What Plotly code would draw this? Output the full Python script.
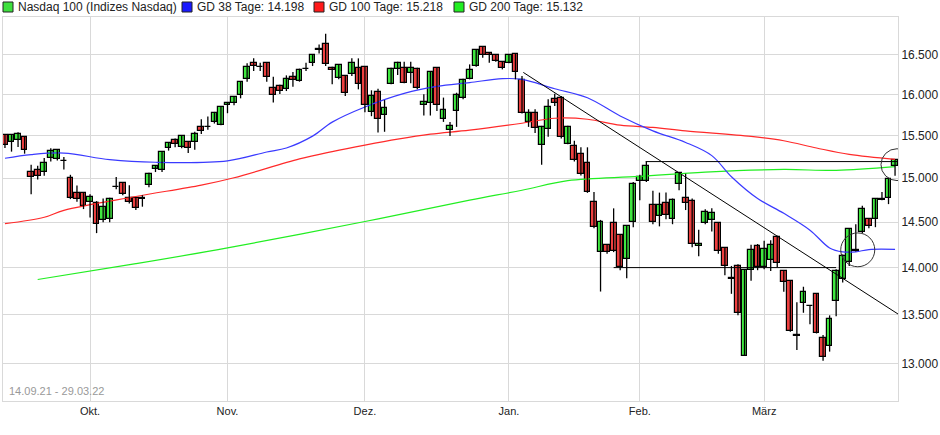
import numpy as np
import pandas as pd
import plotly.graph_objects as go

# trading days 14.09.21 - 29.03.22 (US exchange holidays left out)
holidays = ["2021-11-25", "2021-12-24", "2022-01-17", "2022-02-21"]
days = [d for d in pd.bdate_range("2021-09-14", "2022-03-29").strftime("%Y-%m-%d") if d not in holidays]

open_ = [15509, 15418, 15447, 15482, 15070, 15089, 15073, 15232, 15224, 15198,
         15001, 14833, 14830, 14729, 14718, 14524, 14529, 14899, 14944, 14766,
         14774, 14755, 14921, 15100, 15097, 15349, 15447, 15360, 15418, 15418,
         15608, 15603, 15668, 15627, 15870, 15890, 15996, 16195, 16396, 16345,
         16387, 16083, 16108, 16070, 16220, 16170, 16310, 16396, 16555, 16636,
         16332, 16199, 16227, 16257, 16327, 16345, 15789, 16033, 15745, 16132,
         16312, 16332, 16270, 16320, 15870, 15898, 16332, 15704, 15566, 15793,
         15960, 16195, 16356, 16597, 16513, 16487, 16408, 16396, 16509, 16178,
         15668, 15766, 15387, 15577, 15947, 15960, 15399, 15371, 15282, 15174,
         14729, 14165, 14243, 14494, 14352, 14096, 14505, 14963, 14963, 14688,
         14563, 14718, 14532, 14936, 14774, 14740, 14240, 14487, 14520, 14487,
         14214, 13893, 14018, 13079, 13972, 14233, 14007, 14085, 14337, 13964,
         13859, 13290, 13622, 13592, 13713, 13256, 13182, 13642, 13882, 14064,
         14180, 14395, 14532, 14532, 14750, 14766, 15139]
high = [15517, 15517, 15540, 15490, 15154, 15143, 15235, 15349, 15340, 15247,
        15038, 14914, 14834, 14814, 14736, 14766, 14774, 15012, 14955, 14917,
        14781, 14803, 15062, 15146, 15309, 15418, 15466, 15497, 15426, 15544,
        15696, 15728, 15785, 15858, 15906, 15980, 16165, 16387, 16450, 16396,
        16396, 16220, 16120, 16236, 16278, 16320, 16396, 16500, 16626, 16766,
        16345, 16378, 16236, 16450, 16450, 16353, 16050, 16070, 15930, 16332,
        16408, 16408, 16408, 16332, 16000, 16291, 16340, 15960, 15664, 16020,
        16195, 16374, 16563, 16606, 16522, 16500, 16416, 16500, 16513, 16227,
        15817, 15817, 15616, 15939, 16008, 15980, 15616, 15438, 15360, 15360,
        14841, 14524, 14250, 14654, 14358, 14463, 14955, 15038, 15193, 14855,
        14833, 14833, 14766, 15070, 15050, 14766, 14414, 14643, 14654, 14498,
        14225, 14018, 14035, 13982, 14250, 14257, 14293, 14297, 14347, 13972,
        13865, 13632, 13795, 13596, 13726, 13290, 13494, 13982, 14143, 14432,
        14476, 14684, 14543, 14766, 14841, 14993, 15212]
low = [15352, 15309, 15364, 15285, 14814, 14985, 15027, 15193, 15205, 15100,
       14759, 14729, 14646, 14551, 14377, 14498, 14498, 14871, 14803, 14710,
       14635, 14673, 14895, 15070, 15070, 15321, 15360, 15349, 15294, 15332,
       15517, 15568, 15644, 15624, 15769, 15866, 15951, 16157, 16291, 16291,
       16157, 15900, 16004, 16041, 16095, 16157, 16291, 16353, 16513, 16353,
       16124, 16186, 15980, 16227, 16062, 15781, 15733, 15537, 15545, 16124,
       16240, 16136, 16136, 16062, 15741, 15741, 15797, 15664, 15496, 15604,
       15939, 16186, 16345, 16458, 16396, 16408, 16311, 16387, 16186, 15766,
       15604, 15529, 15155, 15485, 15858, 15466, 15395, 15193, 15031, 14830,
       14432, 13744, 14150, 14168, 13972, 13886, 14441, 14747, 14955, 14476,
       14452, 14532, 14476, 14860, 14635, 14222, 14124, 14476, 14396, 14150,
       13917, 13720, 13494, 13079, 13859, 13972, 13982, 13964, 14007, 13743,
       13324, 13139, 13521, 13402, 13307, 13030, 13122, 13484, 13841, 14018,
       14175, 14377, 14432, 14443, 14747, 14702, 15027]
close = [15387, 15502, 15513, 15329, 15012, 15024, 15174, 15314, 15329, 15198,
         14774, 14755, 14684, 14785, 14474, 14673, 14763, 14897, 14814, 14721,
         14662, 14774, 15050, 15139, 15302, 15407, 15395, 15490, 15352, 15517,
         15549, 15600, 15777, 15850, 15894, 15972, 16153, 16346, 16358, 16335,
         16220, 15988, 16037, 16195, 16178, 16307, 16318, 16487, 16565, 16383,
         16302, 16370, 16020, 16396, 16132, 15870, 15980, 15704, 15833, 16320,
         16396, 16145, 16332, 16083, 15911, 16282, 15866, 15805, 15618, 15988,
         16178, 16307, 16554, 16487, 16487, 16420, 16323, 16491, 16280, 15766,
         15766, 15585, 15608, 15842, 15898, 15485, 15608, 15212, 15047, 14841,
         14441, 14505, 14168, 14176, 14011, 14452, 14936, 15012, 15139, 14505,
         14688, 14580, 14747, 15058, 14710, 14257, 14262, 14617, 14606, 14176,
         14018, 13882, 13518, 13975, 14189, 14011, 14200, 14243, 14046, 13841,
         13331, 13282, 13743, 13590, 13314, 13063, 13460, 13964, 14125, 14421,
         14192, 14646, 14452, 14758, 14762, 14985, 15205]

# moving averages at some trading days (index, value)
gd38_idx = [0, 4, 9, 16, 23, 34, 40, 43, 47, 50, 55, 61, 66, 71, 76, 79, 84, 89, 94,
            99, 104, 108, 111, 115, 119, 123, 126, 128, 130, 132, 136]
gd38_val = [15231, 15274, 15292, 15214, 15184, 15201, 15305, 15352, 15493, 15661,
            15845, 16012, 16099, 16145, 16195, 16186, 16069, 15958, 15736, 15556,
            15418, 15262, 15016, 14766, 14598, 14410, 14214, 14171, 14171, 14196, 14198]
gd100_idx = [0, 6, 9, 20, 30, 35, 45, 50, 55, 60, 65, 71, 79, 84, 89, 94, 99, 104,
             114, 119, 124, 129, 136]
gd100_val = [14482, 14554, 14632, 14789, 14919, 15004, 15224, 15310, 15387, 15458,
             15517, 15565, 15648, 15708, 15696, 15624, 15597, 15556, 15490, 15438,
             15352, 15276, 15218]
gd200_idx = [5, 20, 34, 55, 71, 79, 86, 97, 107, 119, 127, 136]
gd200_val = [13872, 14042, 14214, 14506, 14747, 14860, 14970, 15019, 15070, 15100,
             15089, 15132]

y_ticks = [13000, 13500, 14000, 14500, 15000, 15500, 16000, 16500]
month_labels = ["Okt.", "Nov.", "Dez.", "Jan.", "Feb.", "März"]
month_first = ["2021-10-01", "2021-11-01", "2021-12-01", "2022-01-03", "2022-02-01", "2022-03-01"]

x = list(range(len(days)))
month_pos = [days.index(d) for d in month_first]

fig = go.Figure()
for idx, val, col in [(gd200_idx, gd200_val, "#22ee22"), (gd100_idx, gd100_val, "#ff2a2a"),
                      (gd38_idx, gd38_val, "#3a3aff")]:
    fig.add_trace(go.Scatter(x=idx, y=val, mode="lines", line=dict(color=col, width=1.2, shape="spline"),
                             showlegend=False, hoverinfo="skip"))

# candles: wicks as one line trace, bodies as bars
wx, wy = [], []
for i in x:
    wx += [i, i, None]
    wy += [low[i], high[i], None]
fig.add_trace(go.Scatter(x=wx, y=wy, mode="lines", line=dict(color="black", width=1.3),
                         showlegend=False, hoverinfo="skip"))
o = np.array(open_, float)
c = np.array(close, float)
base = np.minimum(o, c)
top = np.maximum(np.maximum(o, c), base * 1.0004)
fig.add_trace(go.Bar(x=x, base=base, y=top - base, width=0.88, hovertext=days,
                     marker=dict(color=np.where(c >= o, "#40e840", "#ee4040").tolist(),
                                 line=dict(color="black", width=1.2)),
                     showlegend=False))

line = dict(color="black", width=1)
shapes = [
    # trend line from the January high
    dict(type="line", xref="x", yref="y", x0=79.2, y0=16273, x1=136.45, y1=13508, line=line),
    # resistance and support lines
    dict(type="line", xref="x", yref="y", x0=97.9, y0=15192, x1=143, y1=15192, line=line),
    dict(type="line", xref="x", yref="y", x0=93, y0=14000, x1=127, y1=14000, line=line),
]
for cx, cy, rx, rl in [(136.3, 15156, 2.45, 0.00533), (130.3, 14193, 2.6, 0.00566)]:
    shapes.append(dict(type="circle", xref="x", yref="y", x0=cx - rx, x1=cx + rx,
                       y0=cy / 10 ** rl, y1=cy * 10 ** rl, line=dict(color="#333", width=1)))

# legend drawn by hand
legend = [("Nasdaq 100 (Indizes Nasdaq)", "#3ee03e", 3),
          ("GD 38 Tage: 14.198", "#1a1aff", 182),
          ("GD 100 Tage: 15.218", "#ff1a1a", 314),
          ("GD 200 Tage: 15.132", "#22ee22", 454)]
annotations = []
for name, col, px in legend:
    shapes.append(dict(type="rect", xref="paper", yref="paper",
                       x0=(px - 3) / 895, x1=(px + 7) / 895, y0=(401 - 12) / 384, y1=(401 - 2) / 384,
                       fillcolor=col, line=dict(color="#222", width=1)))
    annotations.append(dict(text=name, xref="paper", yref="paper", x=(px + 10) / 895, y=(401 - 7) / 384,
                            xanchor="left", yanchor="middle", showarrow=False,
                            font=dict(size=12, color="#222")))
annotations.append(dict(text="14.09.21 - 29.03.22", xref="paper", yref="paper", x=0.004, y=0.005,
                        xanchor="left", yanchor="bottom", showarrow=False,
                        font=dict(size=11, color="#999")))
fig.update_layout(
    width=940, height=435, margin=dict(l=3, r=42, t=17, b=34),
    paper_bgcolor="white", plot_bgcolor="white", bargap=0,
    font=dict(family="Liberation Sans, Arial", size=11, color="#222"),
    shapes=shapes, annotations=annotations, hovermode="closest",
    xaxis=dict(range=[-0.3, 136.45], tickvals=month_pos, ticktext=month_labels, showgrid=True,
               gridcolor="#d9d9d9", showline=True, mirror=True, linecolor="#d9d9d9", automargin=False,
               ticks="", zeroline=False),
    yaxis=dict(type="log", side="right", range=[np.log10(12632), np.log10(16983)], tickvals=y_ticks,
               ticktext=[f"{v:,}".replace(",", ".") for v in y_ticks], showgrid=True, automargin=False,
               gridcolor="#d9d9d9", showline=True, mirror=True, linecolor="#d9d9d9", ticks="",
               zeroline=False, tickfont=dict(size=12)),
)
fig.write_html("out.html", config={"displayModeBar": False},
               post_script="document.body.style.margin='0';document.body.style.overflow='hidden';")
